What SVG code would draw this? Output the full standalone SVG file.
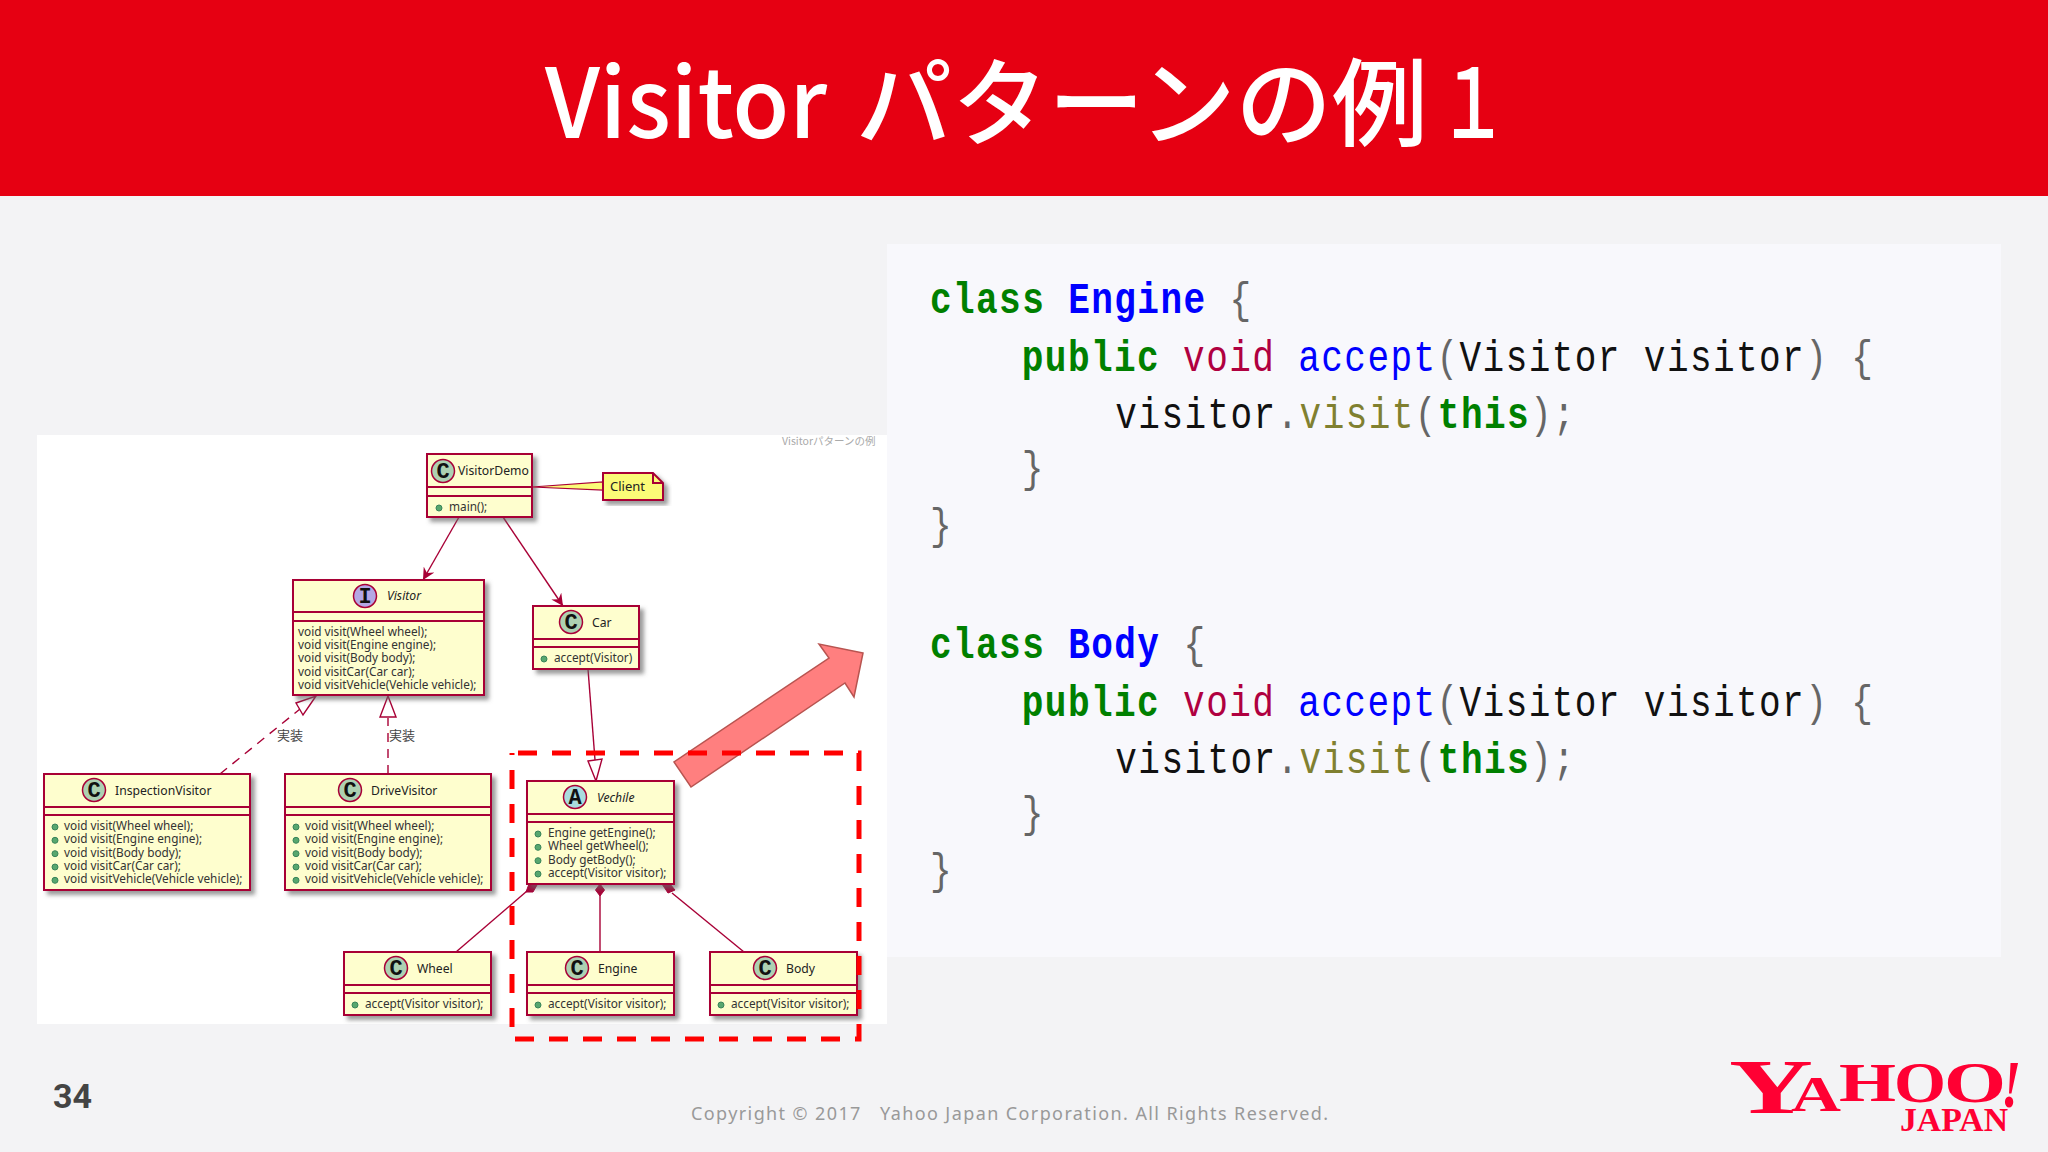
<svg xmlns="http://www.w3.org/2000/svg" width="2048" height="1152" viewBox="0 0 2048 1152">
<style>
.box{fill:#FEFECE;stroke:#A80036;stroke-width:2;filter:url(#sh)}
.div{stroke:#A80036;stroke-width:2;fill:none}
.cc{fill:#ADD1B2;stroke:#A80036;stroke-width:1.5}
.ci{fill:#B4A7E5;stroke:#A80036;stroke-width:1.5}
.ca{fill:#A9DCDF;stroke:#A80036;stroke-width:1.5}
.gl{font:bold 22px "Liberation Mono",monospace;fill:#111;text-anchor:middle}
.nm{font:12.2px "Noto Sans",sans-serif;fill:#222}
.it{font-style:italic}
.m{font:11.8px "Noto Sans",sans-serif;fill:#333}
.dot{fill:#57A76E;stroke:#38845A;stroke-width:1}
.ln{stroke:#A80036;stroke-width:1.4;fill:none}
.das{stroke-dasharray:9 7}
.tri{fill:#fff;stroke:#A80036;stroke-width:1.4}
.dia{fill:#A80036;stroke:#A80036}
.lab{font:13px "Noto Sans CJK JP",sans-serif;fill:#444}
.code{font:44px "Liberation Mono",monospace;letter-spacing:1.7px;fill:#111}
.kw{fill:#008000;font-weight:bold}
.cl{fill:#0000ff;font-weight:bold}
.ty{fill:#B00040}
.fn{fill:#0000ff}
.me{fill:#808030}
.p{fill:#666}
.yh{font-family:"Liberation Serif",serif;font-weight:bold;fill:#FF0033}
</style>
<defs>
<filter id="sh" x="-10%" y="-10%" width="125%" height="130%"><feDropShadow dx="4" dy="4" stdDeviation="2" flood-color="#666" flood-opacity=".65"/></filter>
<marker id="op" markerWidth="14" markerHeight="12" refX="12" refY="6" orient="auto" markerUnits="userSpaceOnUse"><path d="M0 0L12 6L0 12L4 6Z" fill="#A80036"/></marker>
</defs>
<rect width="2048" height="1152" fill="#F3F3F5"/>
<rect width="2048" height="196" fill="#E60012"/>
<text y="138" font-family="'Noto Sans CJK JP',sans-serif" font-weight="500" font-size="96" fill="#fff"><tspan x="545" textLength="282" lengthAdjust="spacingAndGlyphs">Visitor</tspan><tspan x="856" textLength="572" lengthAdjust="spacingAndGlyphs">パターンの例</tspan><tspan x="1437" textLength="72" lengthAdjust="spacingAndGlyphs">１</tspan></text>
<rect x="887" y="244" width="1114" height="713" fill="#F8F8FC"/>
<rect x="37" y="435" width="850" height="589" fill="#fff"/>
<text x="782" y="445" font-family="'Noto Sans CJK JP',sans-serif" font-size="10.5" fill="#aaa">Visitorパターンの例</text>

<g id="connectors">
<path class="ln" d="M459 517L423 580" marker-end="url(#op)"/>
<path class="ln" d="M503 517L563 606" marker-end="url(#op)"/>
<path class="ln" d="M588 669L595 760"/>
<path class="tri" d="M588 761L602 759L596 781Z"/>
<path class="ln das" d="M220 774L300 709"/>
<path class="tri" d="M296 703L303 715L316 696Z"/>
<path class="ln das" d="M388 774L388 718"/>
<path class="tri" d="M388 696L380 717L396 717Z"/>
<path class="ln" d="M456 952L527 891"/>
<path class="dia" d="M537 885L529 884L526 892L533 892Z"/>
<path class="ln" d="M600 895L600 952"/>
<path class="dia" d="M600 884L604.5 890L600 896L595.5 890Z"/>
<path class="ln" d="M744 952L672 893"/>
<path class="dia" d="M662 884L670 884L675 890L668 893Z"/>
<text class="lab" x="277" y="740">実装</text>
<text class="lab" x="389" y="740">実装</text>
</g>

<g id="VisitorDemo">
<rect class="box" x="427" y="454" width="105" height="63"/>
<path class="div" d="M427 487H532M427 496H532"/>
<circle class="cc" cx="443" cy="471" r="11.5"/><text class="gl" x="443" y="478">C</text>
<text class="nm" x="458" y="475">VisitorDemo</text>
<circle class="dot" cx="439" cy="508" r="3"/><text class="m" x="449" y="511">main();</text>
</g>

<g id="Client">
<path d="M532 487L603 482V490Z" fill="#FBFB77" stroke="#A80036" stroke-width="1.2"/>
<path class="box" style="fill:#FBFB77" d="M603 473H653L663 483V500H603Z"/>
<path class="div" d="M653 473V483H663" stroke-width="1.4"/>
<text class="nm" x="610" y="491" style="font-size:13px">Client</text>
</g>

<g id="Visitor">
<rect class="box" x="293" y="580" width="191" height="115"/>
<path class="div" d="M293 612H484M293 621H484"/>
<circle class="ci" cx="365" cy="596" r="11.5"/><text class="gl" x="365" y="603">I</text>
<text class="nm it" x="387" y="600">Visitor</text>
<text class="m" x="298" y="635.5">void visit(Wheel wheel);</text>
<text class="m" x="298" y="648.8">void visit(Engine engine);</text>
<text class="m" x="298" y="662.2">void visit(Body body);</text>
<text class="m" x="298" y="675.5">void visitCar(Car car);</text>
<text class="m" x="298" y="688.8">void visitVehicle(Vehicle vehicle);</text>
</g>

<g id="Car">
<rect class="box" x="533" y="606" width="106" height="63"/>
<path class="div" d="M533 639H639M533 647H639"/>
<circle class="cc" cx="571" cy="622" r="11.5"/><text class="gl" x="571" y="629">C</text>
<text class="nm" x="592" y="627">Car</text>
<circle class="dot" cx="544" cy="659" r="3"/><text class="m" x="554" y="662">accept(Visitor)</text>
</g>

<g id="InspectionVisitor">
<rect class="box" x="44" y="774" width="206" height="116"/>
<path class="div" d="M44 807H250M44 815H250"/>
<circle class="cc" cx="94" cy="790" r="11.5"/><text class="gl" x="94" y="797">C</text>
<text class="nm" x="115" y="795">InspectionVisitor</text>
<circle class="dot" cx="55" cy="827" r="3"/><circle class="dot" cx="55" cy="840.3" r="3"/><circle class="dot" cx="55" cy="853.7" r="3"/><circle class="dot" cx="55" cy="867" r="3"/><circle class="dot" cx="55" cy="880.3" r="3"/>
<text class="m" x="64" y="830">void visit(Wheel wheel);</text>
<text class="m" x="64" y="843.3">void visit(Engine engine);</text>
<text class="m" x="64" y="856.7">void visit(Body body);</text>
<text class="m" x="64" y="870">void visitCar(Car car);</text>
<text class="m" x="64" y="883.3">void visitVehicle(Vehicle vehicle);</text>
</g>

<g id="DriveVisitor">
<rect class="box" x="285" y="774" width="206" height="116"/>
<path class="div" d="M285 807H491M285 815H491"/>
<circle class="cc" cx="350" cy="790" r="11.5"/><text class="gl" x="350" y="797">C</text>
<text class="nm" x="371" y="795">DriveVisitor</text>
<circle class="dot" cx="296" cy="827" r="3"/><circle class="dot" cx="296" cy="840.3" r="3"/><circle class="dot" cx="296" cy="853.7" r="3"/><circle class="dot" cx="296" cy="867" r="3"/><circle class="dot" cx="296" cy="880.3" r="3"/>
<text class="m" x="305" y="830">void visit(Wheel wheel);</text>
<text class="m" x="305" y="843.3">void visit(Engine engine);</text>
<text class="m" x="305" y="856.7">void visit(Body body);</text>
<text class="m" x="305" y="870">void visitCar(Car car);</text>
<text class="m" x="305" y="883.3">void visitVehicle(Vehicle vehicle);</text>
</g>

<g id="Vechile">
<rect class="box" x="527" y="781" width="147" height="103"/>
<path class="div" d="M527 814H674M527 822H674"/>
<circle class="ca" cx="575" cy="797" r="11.5"/><text class="gl" x="575" y="804">A</text>
<text class="nm it" x="597" y="802">Vechile</text>
<circle class="dot" cx="538" cy="834" r="3"/><circle class="dot" cx="538" cy="847.3" r="3"/><circle class="dot" cx="538" cy="860.7" r="3"/><circle class="dot" cx="538" cy="874" r="3"/>
<text class="m" x="548" y="837">Engine getEngine();</text>
<text class="m" x="548" y="850.3">Wheel getWheel();</text>
<text class="m" x="548" y="863.7">Body getBody();</text>
<text class="m" x="548" y="877">accept(Visitor visitor);</text>
</g>

<g id="Wheel">
<rect class="box" x="344" y="952" width="147" height="63"/>
<path class="div" d="M344 985H491M344 993H491"/>
<circle class="cc" cx="396" cy="968" r="11.5"/><text class="gl" x="396" y="975">C</text>
<text class="nm" x="417" y="973">Wheel</text>
<circle class="dot" cx="355" cy="1005" r="3"/><text class="m" x="365" y="1008">accept(Visitor visitor);</text>
</g>

<g id="Engine">
<rect class="box" x="527" y="952" width="147" height="63"/>
<path class="div" d="M527 985H674M527 993H674"/>
<circle class="cc" cx="577" cy="968" r="11.5"/><text class="gl" x="577" y="975">C</text>
<text class="nm" x="598" y="973">Engine</text>
<circle class="dot" cx="538" cy="1005" r="3"/><text class="m" x="548" y="1008">accept(Visitor visitor);</text>
</g>

<g id="Body">
<rect class="box" x="710" y="952" width="147" height="63"/>
<path class="div" d="M710 985H857M710 993H857"/>
<circle class="cc" cx="765" cy="968" r="11.5"/><text class="gl" x="765" y="975">C</text>
<text class="nm" x="786" y="973">Body</text>
<circle class="dot" cx="721" cy="1005" r="3"/><text class="m" x="731" y="1008">accept(Visitor visitor);</text>
</g>

<path id="bigArrow" d="M863 653L819 644L829 658L674 762L691 787L845 683L854 697Z" fill="#FF7F7F" stroke="#B85450" stroke-width="1.5"/>
<rect id="highlight" x="512" y="753" width="347" height="286" fill="none" stroke="#FF0000" stroke-width="5" stroke-dasharray="19 15" stroke-dashoffset="-6"/>

<g id="code" xml:space="preserve" transform="translate(930 0) scale(.82 1)">
<text class="code" x="0" y="313"><tspan class="kw">class</tspan> <tspan class="cl">Engine</tspan> <tspan class="p">{</tspan></text>
<text class="code" x="112" y="371"><tspan class="kw">public</tspan> <tspan class="ty">void</tspan> <tspan class="fn">accept</tspan><tspan class="p">(</tspan>Visitor visitor<tspan class="p">) {</tspan></text>
<text class="code" x="226" y="428">visitor<tspan class="p">.</tspan><tspan class="me">visit</tspan><tspan class="p">(</tspan><tspan class="kw">this</tspan><tspan class="p">);</tspan></text>
<text class="code p" x="112" y="482">}</text>
<text class="code p" x="0" y="539">}</text>
<text class="code" x="0" y="658"><tspan class="kw">class</tspan> <tspan class="cl">Body</tspan> <tspan class="p">{</tspan></text>
<text class="code" x="112" y="716"><tspan class="kw">public</tspan> <tspan class="ty">void</tspan> <tspan class="fn">accept</tspan><tspan class="p">(</tspan>Visitor visitor<tspan class="p">) {</tspan></text>
<text class="code" x="226" y="773">visitor<tspan class="p">.</tspan><tspan class="me">visit</tspan><tspan class="p">(</tspan><tspan class="kw">this</tspan><tspan class="p">);</tspan></text>
<text class="code p" x="112" y="827">}</text>
<text class="code p" x="0" y="884">}</text>
</g>

<text x="53" y="1108" font-family="Roboto,sans-serif" font-weight="700" font-size="34" fill="#444">34</text>
<text x="691" y="1120" font-family="'Noto Sans',sans-serif" font-size="18" fill="#999" xml:space="preserve" textLength="637">Copyright © 2017   Yahoo Japan Corporation. All Rights Reserved.</text>

<g id="logo" class="yh">
<text x="1729" y="1113" font-size="79" textLength="84" lengthAdjust="spacingAndGlyphs">Y</text>
<text x="1791" y="1111" font-size="51" textLength="50" lengthAdjust="spacingAndGlyphs">A</text>
<text x="1839" y="1101" font-size="55" textLength="57" lengthAdjust="spacingAndGlyphs">H</text>
<text x="1894" y="1102" font-size="58" textLength="52" lengthAdjust="spacingAndGlyphs">O</text>
<text x="1944" y="1102" font-size="58" textLength="62" lengthAdjust="spacingAndGlyphs">O</text>
<text x="2001" y="1107" font-size="68" font-style="italic" textLength="20" lengthAdjust="spacingAndGlyphs">!</text>
<text x="1900" y="1131" font-size="34" textLength="108" lengthAdjust="spacingAndGlyphs">JAPAN</text>
</g>
</svg>
